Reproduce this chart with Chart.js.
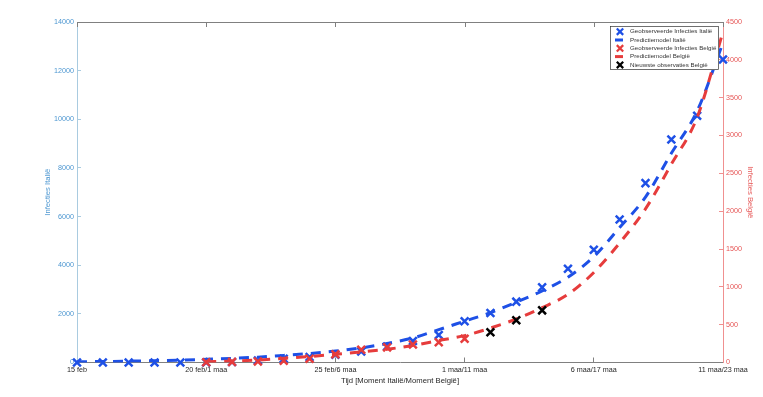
<!DOCTYPE html>
<html>
<head>
<meta charset="utf-8">
<script src="https://cdn.jsdelivr.net/npm/chart.js@4.4.0/dist/chart.umd.min.js"></script>
<style>
  html, body { margin: 0; padding: 0; background: #fff; }
</style>
</head>
<body>
<canvas id="chart" width="763" height="397"></canvas>
<script>
// x = dagen sinds 15 feb (Italië); België loopt 10 dagen achter
const xTickLabels = ['15 feb', '20 feb/1 maa', '25 feb/6 maa', '1 maa/11 maa', '6 maa/17 maa', '11 maa/23 maa'];

const italyDays = [0, 1, 2, 3, 4, 5, 6, 7, 8, 9, 10, 11, 12, 13, 14, 15, 16, 17, 18, 19, 20, 21, 22, 23, 24, 25];
const italyObserved = [3, 3, 3, 3, 3, 3, 20, 79, 150, 229, 322, 453, 655, 888, 1128, 1694, 2036, 2502, 3089, 3858, 4636, 5883, 7375, 9172, 10149, 12462];
const italyModel = [30, 40, 55, 75, 100, 130, 170, 220, 290, 370, 470, 600, 780, 1010, 1350, 1700, 2050, 2480, 2940, 3510, 4350, 5550, 6800, 8600, 10340, 13150];

const belgiumDays = [5, 6, 7, 8, 9, 10, 11, 12, 13, 14, 15];
const belgiumObserved = [2, 8, 13, 23, 50, 109, 169, 200, 239, 267, 314];
const belgiumNewDays = [16, 17, 18];
const belgiumNewObserved = [399, 559, 689];
const belgiumModelDays = [5, 6, 7, 8, 9, 10, 11, 12, 13, 14, 15, 16, 17, 18, 19, 20, 21, 22, 23, 24, 25];
const belgiumModel = [10, 20, 33, 55, 78, 108, 140, 175, 225, 290, 355, 455, 575, 725, 900, 1190, 1580, 2030, 2620, 3240, 4370];

const BLUE = '#1e50e6';
const RED = '#e63c3c';
const BLACK = '#000000';
const LEFT_AXIS = '#a9cbe0';
const LEFT_TEXT = '#4d97d1';
const RIGHT_AXIS = '#f09090';
const RIGHT_TEXT = '#e65555';
const GREY = '#808080';

function pts(xs, ys) {
    return xs.map((x, i) => ({ x: x, y: ys[i] }));
}

function markerSet(label, xs, ys, color, axis, order) {
    return {
        label: label,
        data: pts(xs, ys),
        yAxisID: axis,
        showLine: false,
        pointStyle: 'crossRot',
        pointRadius: 5.5,
        pointBorderWidth: 2.5,
        pointBorderColor: color,
        pointBackgroundColor: color,
        borderColor: color,
        clip: false,
        order: order
    };
}

function modelSet(label, xs, ys, color, axis, order) {
    return {
        label: label,
        data: pts(xs, ys),
        yAxisID: axis,
        borderColor: color,
        borderWidth: 3,
        borderDash: [10, 8],
        pointRadius: 0,
        cubicInterpolationMode: 'monotone',
        fill: false,
        order: order
    };
}

Chart.defaults.font.family = "'Liberation Sans', Arial, sans-serif";

// kader bovenaan met naar binnen gerichte ticks
const framePlugin = {
    id: 'frame',
    beforeDatasetsDraw(chart) {
        const ctx = chart.ctx;
        const a = chart.chartArea;
        const xs = chart.scales.x;
        ctx.save();
        ctx.strokeStyle = GREY;
        ctx.lineWidth = 1;
        ctx.beginPath();
        ctx.moveTo(a.left, a.top + 0.5);
        ctx.lineTo(a.right, a.top + 0.5);
        xs.ticks.forEach(t => {
            const px = Math.round(xs.getPixelForValue(t.value)) + 0.5;
            ctx.moveTo(px, a.top);
            ctx.lineTo(px, a.top + 5);
        });
        ctx.stroke();
        ctx.restore();
    }
};

// legenda in MATLAB-stijl
const legendPlugin = {
    id: 'boxLegend',
    afterDraw(chart) {
        const ctx = chart.ctx;
        const a = chart.chartArea;
        const w = 109, h = 44;
        const x0 = a.right - 4 - w, y0 = a.top + 4;
        ctx.save();
        ctx.fillStyle = '#ffffff';
        ctx.fillRect(x0, y0, w, h);
        ctx.strokeStyle = '#333333';
        ctx.lineWidth = 0.7;
        ctx.strokeRect(x0 + 0.5, y0 + 0.5, w - 1, h - 1);
        chart.data.datasets.forEach((ds, i) => {
            const cy = y0 + 5.7 + i * 8.3;
            const cx = x0 + 10;
            ctx.strokeStyle = ds.borderColor;
            if (ds.showLine === false) {
                ctx.lineWidth = 2.2;
                ctx.beginPath();
                ctx.moveTo(cx - 3.2, cy - 3.2);
                ctx.lineTo(cx + 3.2, cy + 3.2);
                ctx.moveTo(cx + 3.2, cy - 3.2);
                ctx.lineTo(cx - 3.2, cy + 3.2);
                ctx.stroke();
            } else {
                ctx.lineWidth = 3;
                ctx.beginPath();
                ctx.moveTo(cx - 5, cy);
                ctx.lineTo(cx + 3, cy);
                ctx.stroke();
            }
            ctx.fillStyle = '#333333';
            ctx.font = "6.2px 'Liberation Sans', Arial, sans-serif";
            ctx.textBaseline = 'middle';
            ctx.textAlign = 'left';
            ctx.fillText(ds.label, x0 + 20, cy);
        });
        ctx.restore();
    }
};

const ctx = document.getElementById('chart');
const chart = new Chart(ctx, {
    type: 'line',
    data: {
        datasets: [
            markerSet('Geobserveerde Infecties Italië', italyDays, italyObserved, BLUE, 'y', 4),
            modelSet('Predictiemodel Italië', italyDays, italyModel, BLUE, 'y', 3),
            markerSet('Geobserveerde Infecties België', belgiumDays, belgiumObserved, RED, 'y1', 2),
            modelSet('Predictiemodel België', belgiumModelDays, belgiumModel, RED, 'y1', 1),
            markerSet('Nieuwste observaties België', belgiumNewDays, belgiumNewObserved, BLACK, 'y1', 0)
        ]
    },
    options: {
        responsive: false,
        animation: false,
        events: [],
        layout: { padding: { top: 22, left: 0, right: 0, bottom: 0 } },
        plugins: {
            legend: { display: false },
            tooltip: { enabled: false }
        },
        scales: {
            x: {
                type: 'linear',
                min: 0,
                max: 25,
                afterFit: (s) => { s.height = 34.5; },
                border: { display: true, color: GREY, width: 1 },
                grid: { display: true, drawOnChartArea: false, drawTicks: true, tickLength: -5, color: GREY },
                ticks: {
                    stepSize: 5,
                    padding: 8,
                    color: '#262626',
                    font: { size: 7.2 },
                    maxRotation: 0,
                    callback: (v) => xTickLabels[v / 5]
                },
                title: {
                    display: true,
                    text: 'Tijd [Moment Italië/Moment België]',
                    color: '#262626',
                    font: { size: 7.7 },
                    padding: { top: 0, bottom: 11 }
                }
            },
            y: {
                position: 'left',
                min: 0,
                max: 14000,
                afterFit: (s) => { s.width = 77; },
                border: { display: true, color: LEFT_AXIS, width: 1 },
                grid: { display: true, drawOnChartArea: false, drawTicks: true, tickLength: -4, color: LEFT_AXIS },
                ticks: { stepSize: 2000, padding: 7, color: LEFT_TEXT, font: { size: 7.2 }, callback: (v) => String(v) },
                title: {
                    display: true,
                    text: 'Infecties Italië',
                    color: LEFT_TEXT,
                    font: { size: 7.7 },
                    padding: { top: 43, bottom: 0 }
                }
            },
            y1: {
                position: 'right',
                min: 0,
                max: 4500,
                afterFit: (s) => { s.width = 40; },
                border: { display: true, color: RIGHT_AXIS, width: 1 },
                grid: { display: true, drawOnChartArea: false, drawTicks: true, tickLength: -4, color: RIGHT_AXIS },
                ticks: { stepSize: 500, padding: 7, color: RIGHT_TEXT, font: { size: 7.2 }, callback: (v) => String(v) },
                title: {
                    display: true,
                    text: 'Infecties België',
                    color: RIGHT_TEXT,
                    font: { size: 7.7 },
                    padding: { top: 8.5, bottom: 0 }
                }
            }
        }
    },
    plugins: [framePlugin, legendPlugin]
});
</script>
</body>
</html>
